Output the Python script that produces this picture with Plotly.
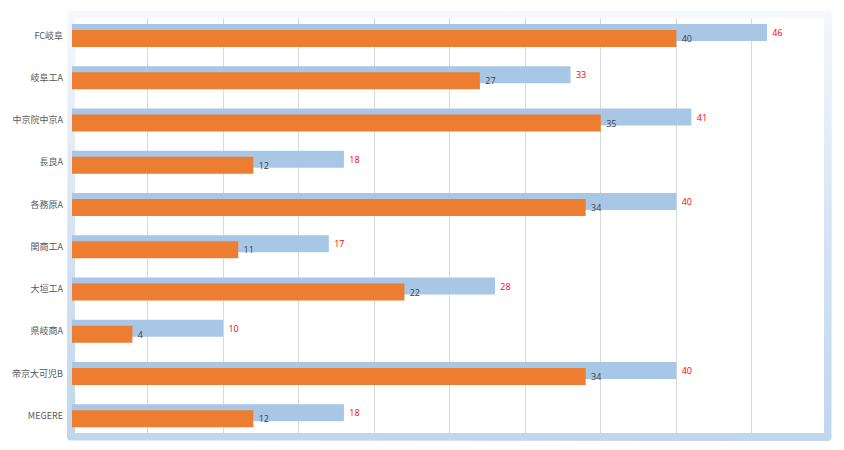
import plotly.graph_objects as go
import math

# ---- data ----
teams = ["FC岐阜", "岐阜工A", "中京院中京A", "長良A", "各務原A",
         "関商工A", "大垣工A", "県岐商A", "帝京大可児B", "MEGERE"]
total_vals = [46, 33, 41, 18, 40, 17, 28, 10, 40, 18]   # light blue (red labels)
main_vals = [40, 27, 35, 12, 34, 11, 22, 4, 34, 12]     # orange (dark labels)
grid_ticks = [0, 5, 10, 15, 20, 25, 30, 35, 40, 45]

# page has an 8px body margin -> figure is 836x442 and placed at (8, 8)
OFF = 8
W, H = 844 - OFF, 450 - OFF

def px(v):
    return v - OFF

# ---- frame geometry (page pixels, y measured from top) ----
def rounded_rect(x0, y0, x1, y1, r, n=6):
    x0, y0, x1, y1 = px(x0), px(y0), px(x1), px(y1)
    pts = []
    corners = [(x1 - r, y0 + r, -90, 0), (x1 - r, y1 - r, 0, 90),
               (x0 + r, y1 - r, 90, 180), (x0 + r, y0 + r, 180, 270)]
    for cx, cy, a0, a1 in corners:
        for i in range(n + 1):
            a = math.radians(a0 + (a1 - a0) * i / n)
            pts.append((cx + r * math.cos(a), cy + r * math.sin(a)))
    pts.append(pts[0])
    xs = [p[0] for p in pts]
    ys = [H - p[1] for p in pts]
    return xs, ys

fig = go.Figure()

ox, oy = rounded_rect(67, 11, 832, 441, 4)
fig.add_trace(go.Scatter(
    x=ox, y=oy, mode="lines", fill="toself", line=dict(width=0),
    fillgradient=dict(type="vertical",
                      colorscale=[[0, "#c0d6ed"], [0.5, "#d6e4f3"], [1, "#f5f8fc"]],
                      start=H - px(441), stop=H - px(11)),
    hoverinfo="skip", showlegend=False, xaxis="x", yaxis="y"))
ix = [px(75), px(824), px(824), px(75), px(75)]
iy = [H - px(18), H - px(18), H - px(433), H - px(433), H - px(18)]
fig.add_trace(go.Scatter(
    x=ix, y=iy, mode="lines", fill="toself", fillcolor="white", line=dict(width=0),
    hoverinfo="skip", showlegend=False, xaxis="x", yaxis="y"))

# ---- bars ----
bar_w = 0.402
fig.add_trace(go.Bar(
    y=teams, x=total_vals, orientation="h", width=bar_w, offset=-0.272,
    marker=dict(color="#a8c7e7", line=dict(width=0)),
    text=total_vals, texttemplate="\u00a0%{text}", textposition="outside",
    textfont=dict(color="#ff0000", size=9, family="Open Sans, sans-serif"),
    constraintext="none", cliponaxis=False, showlegend=False,
    xaxis="x2", yaxis="y2"))
fig.add_trace(go.Bar(
    y=teams, x=main_vals, orientation="h", width=bar_w, offset=-0.130,
    marker=dict(color="#ed7d31", line=dict(width=0)),
    text=main_vals, texttemplate="\u00a0%{text}", textposition="outside",
    textfont=dict(color="#404040", size=9, family="Open Sans, sans-serif"),
    constraintext="none", cliponaxis=False, showlegend=False,
    xaxis="x2", yaxis="y2"))

px_per_unit = 42.26
c0 = 35.5
y_top = (18 - c0) / px_per_unit
y_bot = 9 + (433 - (c0 + 9 * px_per_unit)) / px_per_unit

fig.update_layout(
    width=W, height=H, margin=dict(l=0, r=0, t=0, b=0),
    paper_bgcolor="white", plot_bgcolor="rgba(0,0,0,0)",
    barmode="overlay", showlegend=False,
    xaxis=dict(domain=[0, 1], range=[0, W], visible=False, fixedrange=True),
    yaxis=dict(domain=[0, 1], range=[0, H], visible=False, fixedrange=True),
    xaxis2=dict(domain=[px(72) / W, px(827.4) / W], range=[0, 50], anchor="y2",
                tickvals=grid_ticks, showticklabels=False, showgrid=True,
                gridcolor="#d9d9d9", gridwidth=1, zeroline=False, showline=False,
                ticks=""),
    yaxis2=dict(domain=[1 - px(433) / H, 1 - px(18) / H], anchor="x2",
                type="category", categoryorder="array", categoryarray=teams,
                range=[y_bot, y_top], showgrid=False, zeroline=False,
                showline=False, ticks="", ticklabelstandoff=8,
                tickfont=dict(color="#595959", size=9,
                              family="Noto Sans CJK JP, sans-serif")),
)

fig.write_html("out.html")
